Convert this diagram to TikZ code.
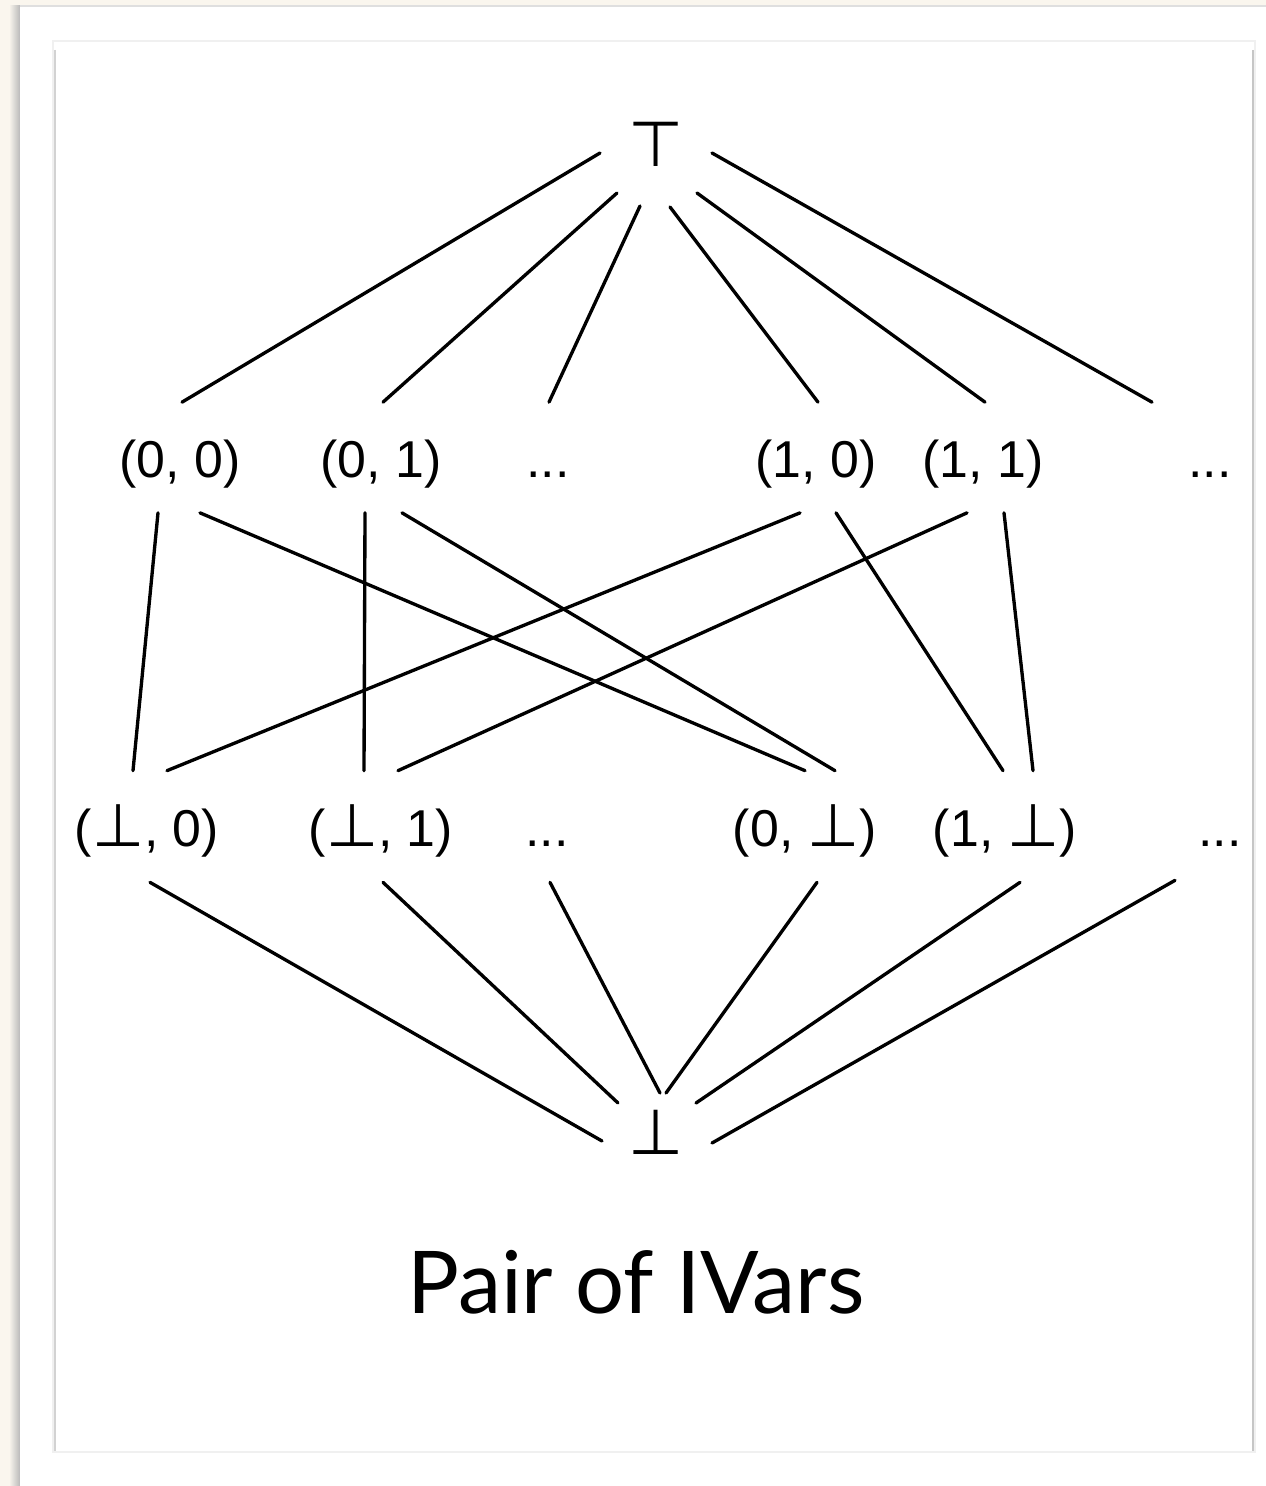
\documentclass[tikz,border=0pt]{standalone}
\usepackage{fontspec}
\setmainfont{Liberation Sans}
\newfontfamily\titlefont{Lato}
\newfontfamily\symfont{DejaVu Sans}
\usepackage{tikz}
\usetikzlibrary{calc}
\definecolor{paper}{RGB}{250,246,238}
\newcommand{\ivbot}{{\symfont\fontsize{34}{40}\selectfont ⊥}}
\newcommand{\ivtop}{{\symfont\fontsize{36}{44}\selectfont ⊤}}

\begin{document}
\begin{tikzpicture}[
    x=0.02cm, y=-0.02cm,
    elem/.style={font=\fontsize{29.5}{35}\selectfont, inner sep=0pt, text height=0.83cm, text depth=0.05cm, anchor=base},
    rowone/.style={elem, minimum height=2.2cm},
    rowtwo/.style={elem, minimum height=2.22cm},
    extreme/.style={font=\fontsize{29.5}{35}\selectfont, inner sep=0pt},
    edge/.style={line width=1.9pt, line cap=round}
]
\useasboundingbox (0,0) rectangle (1266,1486);

% Page and panel
\fill[paper] (0,0) rectangle (1266,1486);
\shade[left color=paper, right color=gray!55] (9,6) rectangle (20,1486);
\fill[white] (20,6) rectangle (1266,1486);
\draw[gray!25, line width=0.8pt] (20,6) -- (1266,6);
\draw[gray!12, line width=0.8pt] (53,41) rectangle (1255,1452);
\draw[gray!35, line width=1.2pt] (55,50) -- (55,1451);
\draw[gray!45, line width=1.2pt] (1253,50) -- (1253,1451);

% Top and bottom
\node[extreme] (top) at (656,144) {\ivtop};
\node[extreme] (bot) at (656,1132) {{\symfont\fontsize{36}{44}\selectfont ⊥}};

% Pairs with one side defined
\node[rowone] (n00) at (180,477) {(0, 0)};
\node[rowone] (n01) at (381,477) {(0, 1)};
\node[rowone] (d1) at (548,477) {...};
\node[rowone] (n10) at (816,477) {(1, 0)};
\node[rowone] (n11) at (983,477) {(1, 1)};
\node[rowone] (d1r) at (1210,477) {...};

% Pairs with one side empty
\node[rowtwo] (b0) at (147,846) {(\ivbot, 0)};
\node[rowtwo] (b1) at (381,846) {(\ivbot, 1)};
\node[rowtwo] (d2) at (547,846) {...};
\node[rowtwo] (c0) at (805,846) {(0, \ivbot)};
\node[rowtwo] (c1) at (1005,846) {(1, \ivbot)};
\node[rowtwo] (d2r) at (1220,846) {...};

% Caption
\node[font=\titlefont\fontsize{49.3}{58}\selectfont, anchor=base] (title) at (636,1313) {Pair of IVars};

% Connections to top
\draw[edge] ($(top.center)+(-56,9)$) -- ($(n00.north)+(2,0)$);
\draw[edge] ($(top.center)+(-39,49)$) -- ($(n01.north)+(2,0)$);
\draw[edge] ($(top.center)+(-16,62)$) -- ($(d1.north)+(1,0)$);
\draw[edge] ($(top.center)+(14,63)$) -- ($(n10.north)+(2,0)$);
\draw[edge] ($(top.center)+(41,49)$) -- ($(n11.north)+(2,0)$);
\draw[edge] ($(top.center)+(56,9)$) -- ($(d1r.north)+(-58,0)$);

% Connections between the rows
\draw[edge] ($(n00.south)+(-22,0)$) -- ($(b0.north)+(-14,0)$);
\draw[edge] ($(n00.south)+(20,0)$) -- ($(c0.north)+(0,0)$);
\draw[edge] ($(n01.south)+(-16,0)$) -- ($(b1.north)+(-17,0)$);
\draw[edge] ($(n01.south)+(21,0)$) -- ($(c0.north)+(30,0)$);
\draw[edge] ($(n10.south)+(-16,0)$) -- ($(b0.north)+(20,0)$);
\draw[edge] ($(n10.south)+(20,0)$) -- ($(c1.north)+(-2,0)$);
\draw[edge] ($(n11.south)+(-16,0)$) -- ($(b1.north)+(17,0)$);
\draw[edge] ($(n11.south)+(21,0)$) -- ($(c1.north)+(28,0)$);

% Connections to bottom
\draw[edge] ($(b0.south)+(3,0)$) -- ($(bot.center)+(-54,9)$);
\draw[edge] ($(b1.south)+(2,0)$) -- ($(bot.center)+(-38,-29)$);
\draw[edge] ($(d2.south)+(3,0)$) -- ($(bot.center)+(4,-39)$);
\draw[edge] ($(c0.south)+(12,0)$) -- ($(bot.center)+(10,-39)$);
\draw[edge] ($(c1.south)+(15,0)$) -- ($(bot.center)+(40,-29)$);
\draw[edge] ($(d2r.south)+(-45,-2)$) -- ($(bot.center)+(56,11)$);

\end{tikzpicture}
\end{document}
